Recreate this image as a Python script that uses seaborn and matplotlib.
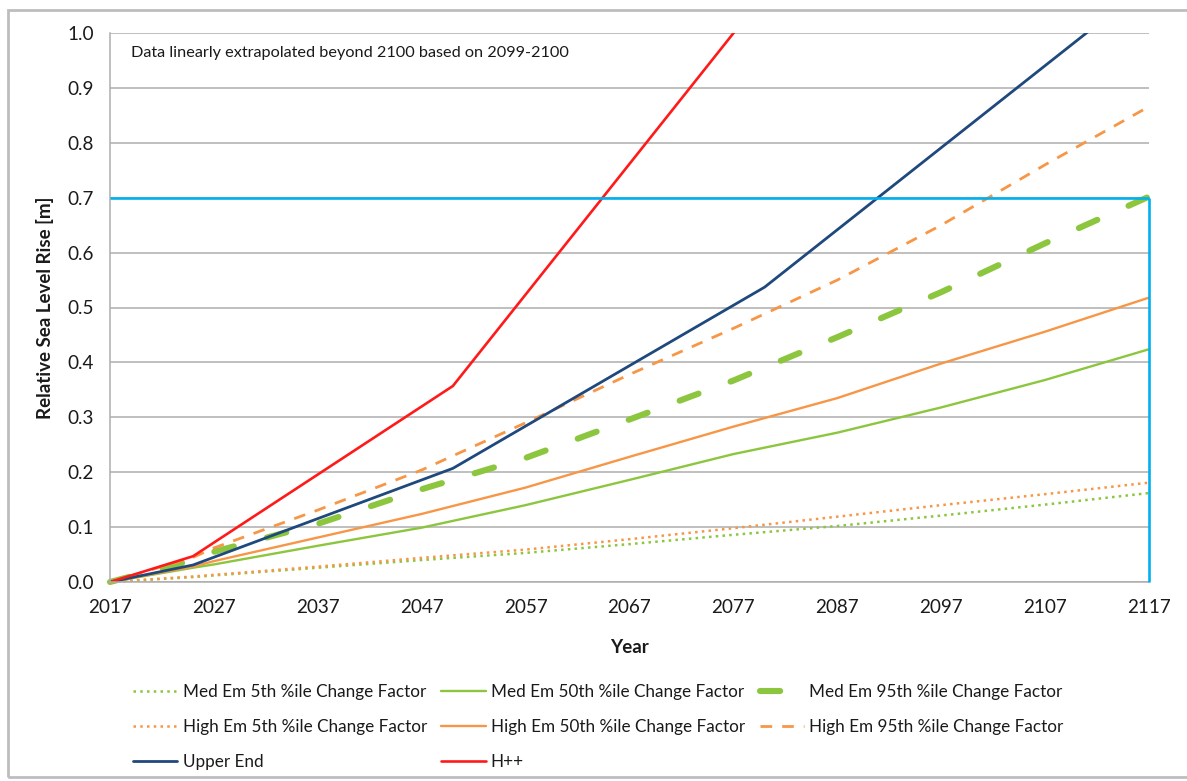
import matplotlib
matplotlib.use("Agg")
import matplotlib.pyplot as plt
import seaborn as sns
from matplotlib.patches import Rectangle

# ---- data -------------------------------------------------------------
years = [2017, 2025, 2027, 2037, 2047, 2057, 2067, 2077, 2087, 2097, 2107, 2117]

med_5th = [0.000, 0.009, 0.012, 0.026, 0.040, 0.053, 0.069, 0.086, 0.102, 0.121, 0.141, 0.162]
med_50th = [0.000, 0.026, 0.032, 0.066, 0.099, 0.140, 0.186, 0.233, 0.272, 0.318, 0.368, 0.424]
med_95th = [0.000, 0.040, 0.055, 0.106, 0.169, 0.226, 0.296, 0.367, 0.446, 0.528, 0.617, 0.702]
high_5th = [0.000, 0.010, 0.013, 0.028, 0.044, 0.059, 0.078, 0.098, 0.119, 0.140, 0.160, 0.181]
high_50th = [0.000, 0.028, 0.038, 0.081, 0.124, 0.172, 0.228, 0.283, 0.335, 0.398, 0.456, 0.518]
high_95th = [0.000, 0.045, 0.062, 0.131, 0.204, 0.290, 0.378, 0.462, 0.550, 0.650, 0.760, 0.866]

upper_years = [2017, 2025, 2050, 2080, 2117]
upper_end = [0.000, 0.031, 0.207, 0.537, 1.090]

hpp_years = [2017, 2025, 2050, 2080]
h_plus_plus = [0.000, 0.047, 0.357, 1.071]

labels = [
    "Med Em 5th %ile Change Factor",
    "Med Em 50th %ile Change Factor",
    "Med Em 95th %ile Change Factor",
    "High Em 5th %ile Change Factor",
    "High Em 50th %ile Change Factor",
    "High Em 95th %ile Change Factor",
    "Upper End",
    "H++",
]

x_ticks = [2017, 2027, 2037, 2047, 2057, 2067, 2077, 2087, 2097, 2107, 2117]
y_ticks = [0.0, 0.1, 0.2, 0.3, 0.4, 0.5, 0.6, 0.7, 0.8, 0.9, 1.0]
threshold = 0.7
note = "Data linearly extrapolated beyond 2100 based on 2099-2100"

# ---- styling ------------------------------------------------------------
GREEN = "#8CC63F"
ORANGE = "#F79646"
NAVY = "#1F497D"
RED = "#FF1A1A"
CYAN = "#00B0F0"
GRID = "#ADADAD"
TEXT = "#1A1A1A"

sns.set_theme(style="white")
plt.rcParams["font.family"] = ["Lato", "DejaVu Sans"]

W, H = 1187, 781
fig = plt.figure(figsize=(W / 100, H / 100), dpi=100)
ax = fig.add_axes([110 / W, 1 - 582 / H, (1149 - 110) / W, (582 - 33) / H])

series = [
    (years, med_5th, dict(color=GREEN, lw=1.8, linestyle=(0, (1, 1.7)))),
    (years, med_50th, dict(color=GREEN, lw=1.7)),
    (years, med_95th, dict(color=GREEN, lw=4.4, linestyle=(0, (3.3, 5.6)),
                           dash_capstyle="round")),
    (years, high_5th, dict(color=ORANGE, lw=1.8, linestyle=(0, (1, 1.7)))),
    (years, high_50th, dict(color=ORANGE, lw=1.7)),
    (years, high_95th, dict(color=ORANGE, lw=2.0, linestyle=(0, (4.2, 3.6)))),
    (upper_years, upper_end, dict(color=NAVY, lw=2.0)),
    (hpp_years, h_plus_plus, dict(color=RED, lw=1.9)),
]

for (xs, ys, kw), lab in zip(series, labels):
    sns.lineplot(x=xs, y=ys, ax=ax, label=lab, legend=False, errorbar=None,
                 sort=False, **kw)

# keep percentile series unclipped at the right edge so their ends show fully
for line in ax.lines[:6]:
    line.set_clip_on(False)

# 0.7 m threshold box
ax.hlines(threshold, x_ticks[0], x_ticks[-1], color=CYAN, lw=1.9, clip_on=False, zorder=5)
ax.vlines(x_ticks[-1], 0, threshold, color=CYAN, lw=1.9, clip_on=False, zorder=5)

ax.set_xlim(x_ticks[0], x_ticks[-1])
ax.set_ylim(y_ticks[0], y_ticks[-1])
ax.set_xticks(x_ticks)
ax.set_yticks(y_ticks)
ax.set_yticklabels([f"{v:.1f}" for v in y_ticks])

ax.grid(axis="y", color=GRID, lw=1.1)
ax.grid(axis="x", visible=False)
ax.set_axisbelow(True)
for side in ("top", "right"):
    ax.spines[side].set_visible(False)
for side in ("left", "bottom"):
    ax.spines[side].set_color(GRID)
    ax.spines[side].set_linewidth(1.1)

ax.tick_params(axis="both", which="major", direction="out", length=4.5, width=1.0,
               color=GRID, labelsize=13.6, labelcolor=TEXT)
ax.tick_params(axis="y", pad=7)
ax.tick_params(axis="x", pad=8)

ax.set_xlabel("Year", fontsize=13.5, fontweight="bold", color=TEXT, labelpad=16)
ax.set_ylabel("Relative Sea Level Rise [m]", fontsize=13.5, fontweight="bold",
              color=TEXT, labelpad=10)

ax.text((131 - 110) / (1149 - 110), (582 - 53) / (582 - 33), note,
        transform=ax.transAxes, fontsize=11.7, color=TEXT, va="center", ha="left")

# legend below, three columns laid out row by row
handles, labs = ax.get_legend_handles_labels()
order = [0, 3, 6, 1, 4, 7, 2, 5]
fig.legend([handles[i] for i in order], [labs[i] for i in order],
           loc="upper left", bbox_to_anchor=(133 / W, 1 - 684 / H), ncol=3,
           frameon=False, fontsize=12.3, handlelength=2.6, handletextpad=0.3,
           columnspacing=0.85, labelspacing=1.12, borderpad=0, borderaxespad=0,
           labelcolor=TEXT)

# chart area border
fig.patches.append(Rectangle((8 / W, 1 - 777 / H), (1200 - 8) / W, (777 - 10) / H,
                             transform=fig.transFigure, fill=False,
                             ec="#BDBDBD", lw=2.0))

fig.savefig("out.png", dpi=100, facecolor="white")
